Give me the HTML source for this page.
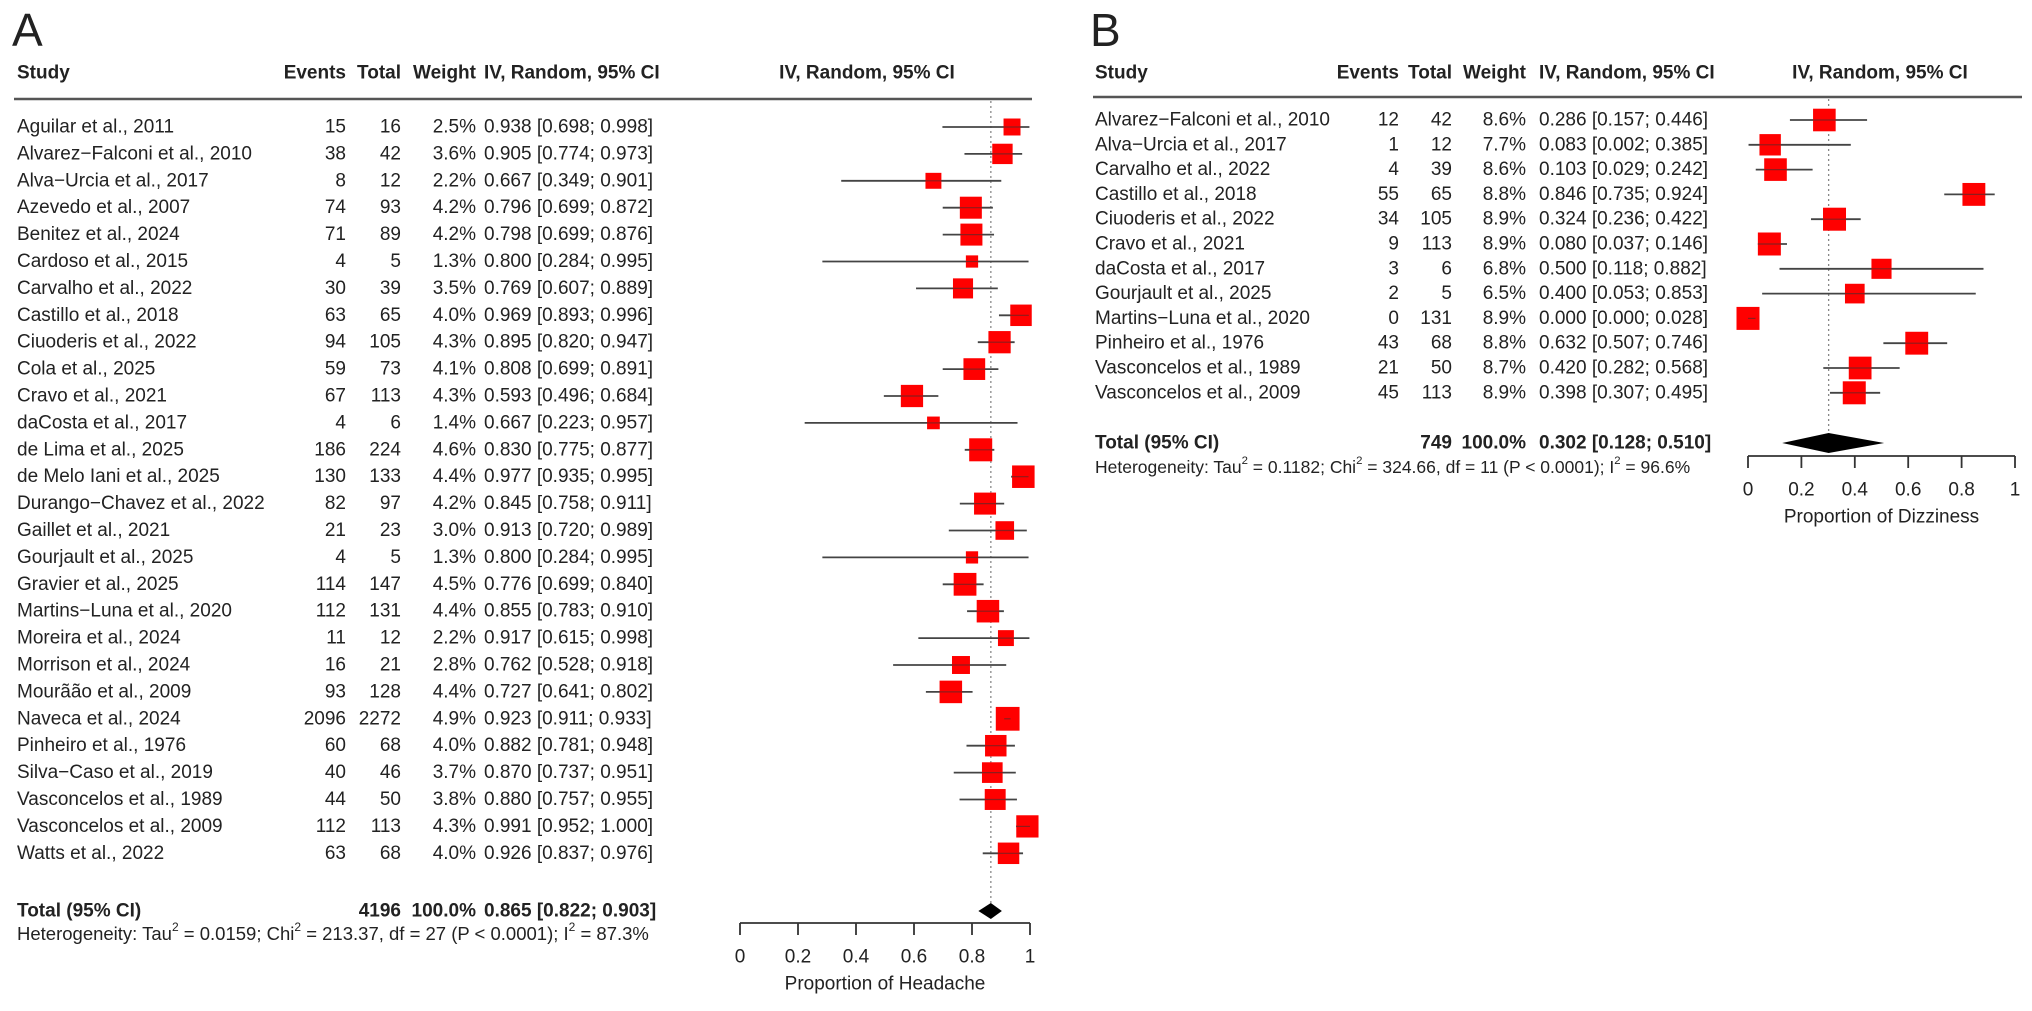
<!DOCTYPE html>
<html><head><meta charset="utf-8">
<style>
html,body{margin:0;padding:0;background:#fff;}
svg{display:block;font-family:"Liberation Sans",Arial,sans-serif;}
</style></head>
<body>
<svg id="fig" width="2032" height="1011" viewBox="0 0 2032 1011" xmlns="http://www.w3.org/2000/svg"></svg>
<script>
// ---- Panel A data (Headache) ----
const studiesA = ["Aguilar et al., 2011","Alvarez\u2212Falconi et al., 2010","Alva\u2212Urcia et al., 2017","Azevedo et al., 2007","Benitez et al., 2024","Cardoso et al., 2015","Carvalho et al., 2022","Castillo et al.,  2018","Ciuoderis et al., 2022","Cola et al., 2025","Cravo et al., 2021","daCosta et al., 2017","de Lima et al., 2025","de Melo Iani et al., 2025","Durango\u2212Chavez et al., 2022","Gaillet et al.,  2021","Gourjault  et al., 2025","Gravier et al., 2025","Martins\u2212Luna et al., 2020","Moreira et al., 2024","Morrison et al., 2024","Mour\u00e3\u00e3o et al., 2009","Naveca et al., 2024","Pinheiro et al., 1976","Silva\u2212Caso et al., 2019","Vasconcelos et al., 1989","Vasconcelos et al., 2009","Watts et al., 2022"];
const eventsA = [15,38,8,74,71,4,30,63,94,59,67,4,186,130,82,21,4,114,112,11,16,93,2096,60,40,44,112,63];
const totalsA = [16,42,12,93,89,5,39,65,105,73,113,6,224,133,97,23,5,147,131,12,21,128,2272,68,46,50,113,68];
const weightsA = [2.5,3.6,2.2,4.2,4.2,1.3,3.5,4.0,4.3,4.1,4.3,1.4,4.6,4.4,4.2,3.0,1.3,4.5,4.4,2.2,2.8,4.4,4.9,4.0,3.7,3.8,4.3,4.0];
const estA = [0.938,0.905,0.667,0.796,0.798,0.800,0.769,0.969,0.895,0.808,0.593,0.667,0.830,0.977,0.845,0.913,0.800,0.776,0.855,0.917,0.762,0.727,0.923,0.882,0.870,0.880,0.991,0.926];
const lowA = [0.698,0.774,0.349,0.699,0.699,0.284,0.607,0.893,0.820,0.699,0.496,0.223,0.775,0.935,0.758,0.720,0.284,0.699,0.783,0.615,0.528,0.641,0.911,0.781,0.737,0.757,0.952,0.837];
const highA = [0.998,0.973,0.901,0.872,0.876,0.995,0.889,0.996,0.947,0.891,0.684,0.957,0.877,0.995,0.911,0.989,0.995,0.840,0.910,0.998,0.918,0.802,0.933,0.948,0.951,0.955,1.000,0.976];
const pooledA = [0.865,0.822,0.903];
const totalNA = 4196;
const hetA = ["0.0159","213.37","27","87.3%"];

// ---- Panel B data (Dizziness) ----
const studiesB = ["Alvarez\u2212Falconi et al., 2010","Alva\u2212Urcia et al., 2017","Carvalho et al., 2022","Castillo et al.,  2018","Ciuoderis et al., 2022","Cravo et al., 2021","daCosta et al., 2017","Gourjault  et al., 2025","Martins\u2212Luna et al., 2020","Pinheiro et al., 1976","Vasconcelos et al., 1989","Vasconcelos et al., 2009"];
const eventsB = [12,1,4,55,34,9,3,2,0,43,21,45];
const totalsB = [42,12,39,65,105,113,6,5,131,68,50,113];
const weightsB = [8.6,7.7,8.6,8.8,8.9,8.9,6.8,6.5,8.9,8.8,8.7,8.9];
const estB = [0.286,0.083,0.103,0.846,0.324,0.080,0.500,0.400,0.000,0.632,0.420,0.398];
const lowB = [0.157,0.002,0.029,0.735,0.236,0.037,0.118,0.053,0.000,0.507,0.282,0.307];
const highB = [0.446,0.385,0.242,0.924,0.422,0.146,0.882,0.853,0.028,0.746,0.568,0.495];
const pooledB = [0.302,0.128,0.510];
const totalNB = 749;
const hetB = ["0.1182","324.66","11","96.6%"];

const axisTicks = [0,0.2,0.4,0.6,0.8,1];
const tickLabels = ["0","0.2","0.4","0.6","0.8","1"];

const NS = "http://www.w3.org/2000/svg";
const svg = document.getElementById("fig");
function mk(tag, attrs, parent){
  const e = document.createElementNS(NS, tag);
  for (const k in attrs) e.setAttribute(k, attrs[k]);
  (parent||svg).appendChild(e);
  return e;
}
function txt(x,y,s,size,anchor,bold,parent){
  const t = mk("text",{x:x,y:y,"font-size":size,"text-anchor":anchor||"start","dominant-baseline":"central",fill:"#222","font-weight":bold?"bold":"normal"},parent);
  t.textContent = s;
  return t;
}
const f3 = v => v.toFixed(3);

function panel(cfg){
  const g = mk("g",{});
  
  
  const X = v => cfg.x0 + v*(cfg.x1-cfg.x0);
  const Y = i => cfg.row0 + i*cfg.rowStep;
  const fs = cfg.fs;
  const L = txt(cfg.letterX, 30, cfg.letter, 46, "start", false, g);
  
  
  const hg = mk("g",{},g);
  
  
  txt(cfg.cStudy, cfg.hy, "Study", fs, "start", true, hg);
  txt(cfg.cEvents, cfg.hy, "Events", fs, "end", true, hg);
  txt(cfg.cTotal, cfg.hy, "Total", fs, "end", true, hg);
  txt(cfg.cWeight, cfg.hy, "Weight", fs, "end", true, hg);
  txt(cfg.cCI, cfg.hy, "IV, Random, 95% CI", fs, "start", true, hg);
  txt(cfg.plotHdr, cfg.hy, "IV, Random, 95% CI", fs, "middle", true, hg);
  const hl = mk("line",{x1:cfg.lineX0,x2:cfg.lineX1,y1:cfg.lineY,y2:cfg.lineY,stroke:"#555","stroke-width":2.5},g);
  
  
  const n = cfg.studies.length;
  const yTot = cfg.totY;
  const ref = mk("line",{x1:X(cfg.pooled[0]),x2:X(cfg.pooled[0]),y1:cfg.lineY+2,y2:yTot,stroke:"#888","stroke-width":1.3,"stroke-dasharray":"2,3"},g);
  
  
  for (let i=0;i<n;i++){
    const y = Y(i);
    const rg = mk("g",{},g);
    
    
    txt(cfg.cStudy, y, cfg.studies[i], fs, "start", false, rg);
    txt(cfg.cEvents, y, String(cfg.events[i]), fs, "end", false, rg);
    txt(cfg.cTotal, y, String(cfg.totals[i]), fs, "end", false, rg);
    txt(cfg.cWeight, y, cfg.weights[i].toFixed(1)+"%", fs, "end", false, rg);
    txt(cfg.cCI, y, f3(cfg.est[i])+" ["+f3(cfg.low[i])+"; "+f3(cfg.high[i])+"]", fs, "start", false, rg);
    const ci = mk("line",{x1:X(cfg.low[i]),x2:X(cfg.high[i]),y1:y,y2:y,stroke:"#444","stroke-width":1.8},rg);
    
    
    const s = cfg.sq*Math.sqrt(cfg.weights[i]/cfg.wRef);
    const sq = mk("rect",{x:X(cfg.est[i])-s/2,y:y-s/2,width:s,height:s,fill:"#ff0000"},rg);
    
    
    const inner = mk("line",{x1:Math.max(X(cfg.low[i]),X(cfg.est[i])-s/2),x2:Math.min(X(cfg.high[i]),X(cfg.est[i])+s/2),y1:y,y2:y,stroke:"#333","stroke-width":1.2,opacity:0.55},rg);
    
    
  }
  const tg = mk("g",{},g);
  
  
  txt(cfg.cStudy, yTot, "Total (95% CI)", fs, "start", true, tg);
  txt(cfg.cTotal, yTot, String(cfg.totalN), fs, "end", true, tg);
  txt(cfg.cWeight, yTot, "100.0%", fs, "end", true, tg);
  txt(cfg.cCI, yTot, f3(cfg.pooled[0])+" ["+f3(cfg.pooled[1])+"; "+f3(cfg.pooled[2])+"]", fs, "start", true, tg);
  const dh = cfg.dh;
  const dia = mk("polygon",{points:[[X(cfg.pooled[1]),yTot],[X(cfg.pooled[0]),yTot-dh],[X(cfg.pooled[2]),yTot],[X(cfg.pooled[0]),yTot+dh]].map(p=>p.join(",")).join(" "),fill:"#000"},tg);
  
  
  const het = mk("text",{x:cfg.cStudy,y:cfg.hetY,"font-size":cfg.hfs,"dominant-baseline":"central",fill:"#222"},g);
  
  
  const parts = [["Heterogeneity: Tau",0],["2",1],[" = "+cfg.het[0]+"; Chi",0],["2",1],[" = "+cfg.het[1]+", df = "+cfg.het[2]+" (P < 0.0001); I",0],["2",1],[" = "+cfg.het[3],0]];
  parts.forEach(p=>{
    const ts = mk("tspan",{},het);
    if (p[1]){ ts.setAttribute("font-size", cfg.hfs*0.65); ts.setAttribute("dy", -6); }
    else if (ts.previousSibling && ts.previousSibling.getAttribute("dy")==="-6"){ ts.setAttribute("dy", 6); }
    ts.textContent = p[0];
  });
  const ag = mk("g",{},g);
  
  
  mk("line",{x1:X(0),x2:X(1),y1:cfg.axY,y2:cfg.axY,stroke:"#333","stroke-width":1.8},ag);
  axisTicks.forEach((t,k)=>{
    mk("line",{x1:X(t),x2:X(t),y1:cfg.axY,y2:cfg.axY+12,stroke:"#333","stroke-width":1.8},ag);
    const tl = txt(X(t), cfg.axY+34, tickLabels[k], fs, "middle", false, ag);
    
    
  });
  const at = txt((X(0)+X(1))/2, cfg.axY+61, cfg.axTitle, fs, "middle", false, ag);
  
  
}

panel({name:"panel-a-headache", letter:"A", letterX:12, fs:19, hfs:18.5,
  cStudy:17, cEvents:346, cTotal:401, cWeight:476, cCI:484, plotHdr:867,
  hy:73, lineY:99, lineX0:14, lineX1:1032,
  x0:740, x1:1030, row0:127, rowStep:26.9, totY:911, hetY:933, axY:923,
  sq:22, wRef:4.2, dh:8,
  studies:studiesA, events:eventsA, totals:totalsA, weights:weightsA, est:estA, low:lowA, high:highA,
  pooled:pooledA, totalN:totalNA, het:hetA, axTitle:"Proportion of Headache"});

panel({name:"panel-b-dizziness", letter:"B", letterX:1090, fs:19, hfs:17.5,
  cStudy:1095, cEvents:1399, cTotal:1452, cWeight:1526, cCI:1539, plotHdr:1880,
  hy:73, lineY:97, lineX0:1093, lineX1:2022,
  x0:1748, x1:2015, row0:120, rowStep:24.8, totY:443, hetY:467, axY:456,
  sq:23, wRef:8.9, dh:10,
  studies:studiesB, events:eventsB, totals:totalsB, weights:weightsB, est:estB, low:lowB, high:highB,
  pooled:pooledB, totalN:totalNB, het:hetB, axTitle:"Proportion of Dizziness"});
</script>
</body></html>
